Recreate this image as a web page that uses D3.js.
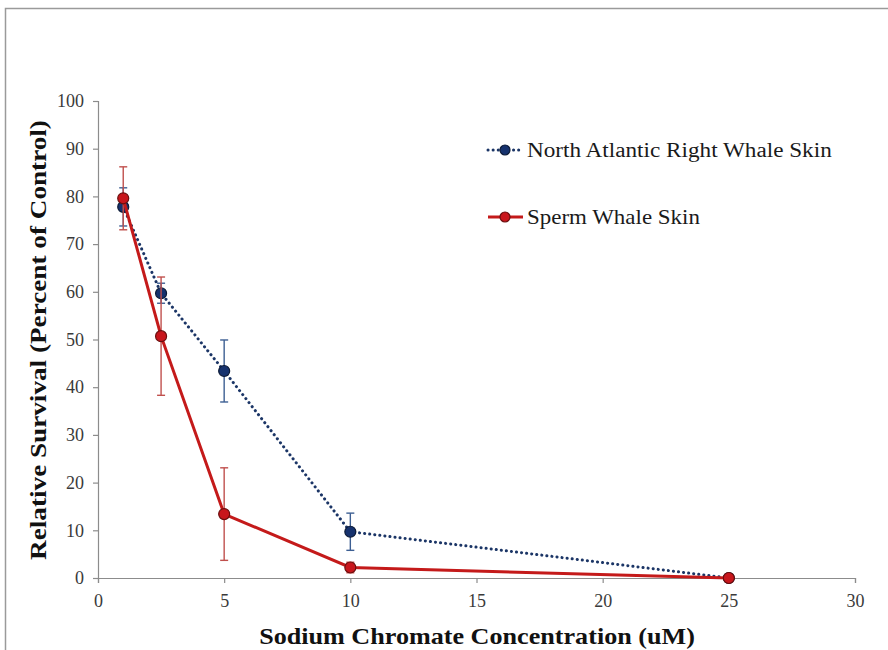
<!DOCTYPE html>
<html>
<head>
<meta charset="utf-8">
<script src="https://cdn.jsdelivr.net/npm/d3@7"></script>
<style>
  html, body { margin: 0; padding: 0; background: #fff; }
  svg { display: block; }
</style>
</head>
<body>
<svg id="chart" width="888" height="650"></svg>
<script>
// Sodium chromate concentration (uM)
const concentrations = [1, 2.5, 5, 10, 25];

// Relative survival (% of control) and error
const rightWhale = [77.8, 59.7, 43.4, 9.7, 0];
const rightWhaleErr = [4.0, 2.1, 6.5, 3.9, 0];
const spermWhale = [79.6, 50.7, 13.4, 2.2, 0];
const spermWhaleErr = [6.6, 12.4, 9.7, 1.1, 0];

const xTicks = [0, 5, 10, 15, 20, 25, 30];
const yTicks = [0, 10, 20, 30, 40, 50, 60, 70, 80, 90, 100];

const seriesNames = ["North Atlantic Right Whale Skin", "Sperm Whale Skin"];

(function drawChart() {
  const FONT = "'Liberation Serif'";
  const svg = d3.select("#chart");

  // widen a text horizontally so that it spans the given width
  function stretchedText(parent, transform, width, anchor, size, weight, str) {
    const t = parent.append("text")
      .attr("text-anchor", anchor)
      .style("font-family", FONT)
      .style("font-size", size + "px")
      .style("font-weight", weight)
      .attr("fill", "#111")
      .text(str);
    const k = width / t.node().getComputedTextLength();
    t.attr("transform", `${transform} scale(${k},1)`);
    return t;
  }

  // outer frame
  svg.append("rect")
    .attr("x", 5.5).attr("y", 8.5)
    .attr("width", 900).attr("height", 660)
    .attr("fill", "none")
    .attr("stroke", "#9a9a9a")
    .attr("stroke-width", 1.5);

  const plotLeft = 98, plotRight = 855, plotTop = 101, plotBottom = 578;

  const x = d3.scaleLinear().domain([0, 30]).range([plotLeft, plotRight]);
  const y = d3.scaleLinear().domain([0, 100]).range([plotBottom, plotTop]);

  const axisColor = "#8c8c8c";

  const yAxis = svg.append("g")
    .attr("transform", `translate(${plotLeft},0)`)
    .call(d3.axisLeft(y).tickValues(yTicks).tickSize(5).tickPadding(9));
  const xAxis = svg.append("g")
    .attr("transform", `translate(0,${plotBottom})`)
    .call(d3.axisBottom(x).tickValues(xTicks).tickSize(5).tickPadding(11));

  [yAxis, xAxis].forEach(g => {
    g.attr("font-family", null).attr("font-size", null);
    g.selectAll("path.domain").attr("stroke", axisColor).attr("stroke-width", 1.2);
    g.selectAll(".tick line").attr("stroke", axisColor).attr("stroke-width", 1.2);
    g.selectAll(".tick text")
      .attr("fill", "#3a3a3a")
      .style("font-family", FONT)
      .style("font-size", "18px");
  });

  // axis titles
  stretchedText(svg, "translate(477,644)", 436, "middle", 23, "bold",
    "Sodium Chromate Concentration (uM)");
  stretchedText(svg, "translate(46,340) rotate(-90)", 440, "middle", 23, "bold",
    "Relative Survival (Percent of Control)");

  const series = [
    { name: seriesNames[0], vals: rightWhale, err: rightWhaleErr,
      line: "#1b3566", fill: "#16326e", stroke: "#0c1a36", errColor: "#3d5f93",
      dash: "0.1 5", cap: "round", labelWidth: 305 },
    { name: seriesNames[1], vals: spermWhale, err: spermWhaleErr,
      line: "#c41a1a", fill: "#c8161c", stroke: "#6a0e0e", errColor: "#c0504d",
      dash: null, cap: "butt", labelWidth: 173 }
  ];

  const lineGen = d3.line().x(d => x(d[0])).y(d => y(d[1]));

  series.forEach(s => {
    const pts = concentrations.map((c, i) => [c, s.vals[i], s.err[i]]);
    const g = svg.append("g");

    // error bars
    pts.filter(p => p[2] > 0).forEach(p => {
      const cx = x(p[0]);
      const y1 = y(p[1] + p[2]), y2 = y(p[1] - p[2]);
      g.append("line").attr("x1", cx).attr("x2", cx).attr("y1", y1).attr("y2", y2)
        .attr("stroke", s.errColor).attr("stroke-width", 1.4);
      [y1, y2].forEach(yy => g.append("line")
        .attr("x1", cx - 4).attr("x2", cx + 4).attr("y1", yy).attr("y2", yy)
        .attr("stroke", s.errColor).attr("stroke-width", 1.4));
    });

    g.append("path")
      .attr("d", lineGen(pts))
      .attr("fill", "none")
      .attr("stroke", s.line)
      .attr("stroke-width", 3)
      .attr("stroke-linecap", s.cap)
      .attr("stroke-dasharray", s.dash);

    g.selectAll("circle").data(pts).enter().append("circle")
      .attr("cx", d => x(d[0])).attr("cy", d => y(d[1]))
      .attr("r", 5.5)
      .attr("fill", s.fill).attr("stroke", s.stroke).attr("stroke-width", 1.2);
  });

  // legend
  const legendY = [150, 217];
  series.forEach((s, i) => {
    const ly = legendY[i];
    svg.append("line")
      .attr("x1", 488).attr("x2", 523).attr("y1", ly).attr("y2", ly)
      .attr("stroke", s.line).attr("stroke-width", 3)
      .attr("stroke-linecap", s.cap)
      .attr("stroke-dasharray", s.dash);
    svg.append("circle").attr("cx", 505).attr("cy", ly).attr("r", 5)
      .attr("fill", s.fill).attr("stroke", s.stroke).attr("stroke-width", 1.2);
    stretchedText(svg, `translate(527,${ly + 6.5})`, s.labelWidth, "start", 20, "normal", s.name)
      .attr("fill", "#1a1a1a");
  });
})();
</script>
</body>
</html>
